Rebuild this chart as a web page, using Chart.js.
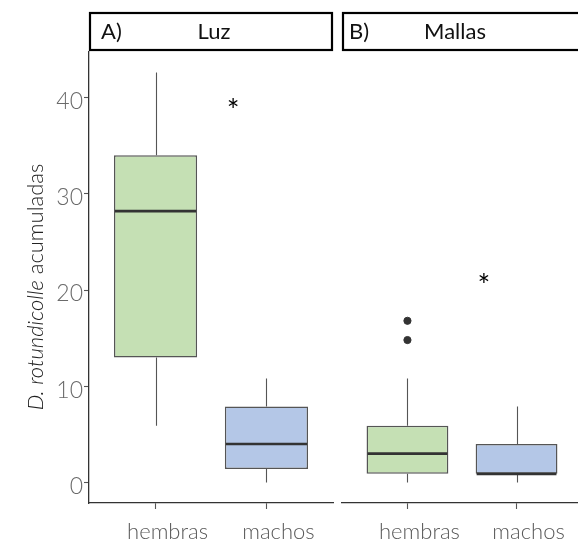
<!DOCTYPE html>
<html>
<head>
<meta charset="utf-8">
<script src="https://cdn.jsdelivr.net/npm/chart.js@4.4.1/dist/chart.umd.min.js"></script>
<style>
    html, body { margin: 0; padding: 0; background: #fff; overflow: hidden; }
    #wrap { position: relative; width: 578px; height: 543px; overflow: hidden; }
    canvas { position: absolute; top: 0; }
    #chartLuz { left: 0; }
    #chartMallas { left: 337px; }
</style>
</head>
<body>
<div id="wrap">
    <canvas id="chartLuz" width="340" height="543"></canvas>
    <canvas id="chartMallas" width="250" height="543"></canvas>
</div>
<script>
    // box stats: [min, q1, median, q3, max]
    const categories = ["hembras", "machos"];
    const yTicks = [0, 10, 20, 30, 40];
    const yRange = [-2.13, 44.73];

    const luzHembras = [5.9, 13.0, 28.2, 34.0, 42.6];
    const luzMachos = [0, 1.4, 4.0, 7.9, 10.8];
    const mallasHembras = [0, 0.9, 3.0, 5.9, 10.8];
    const mallasMachos = [0, 0.9, 0.9, 4.0, 7.9];
    const mallasHembrasOutliers = [16.8, 14.8];

    // significance marks: [x position, y value]
    const luzStar = [1.7, 39.2];
    const mallasStar = [1.7, 21.0];

    const boxColors = ["#c5e0b4", "#b4c7e7"];
    const fontFamily = "Lato, 'Open Sans', sans-serif";

    const boxPlugin = {
        id: "boxPlugin",
        beforeDatasetsDraw(chart) {
            const { ctx, scales } = chart;
            const stats = chart.options.plugins.boxPlugin.stats;
            ctx.save();
            ctx.strokeStyle = "#555";
            ctx.lineWidth = 1.1;
            stats.forEach((s, i) => {
                const x = Math.round(scales.x.getPixelForValue(i + 1)) + 0.5;
                ctx.beginPath();
                ctx.moveTo(x, scales.y.getPixelForValue(s[0]));
                ctx.lineTo(x, scales.y.getPixelForValue(s[1]));
                ctx.moveTo(x, scales.y.getPixelForValue(s[3]));
                ctx.lineTo(x, scales.y.getPixelForValue(s[4]));
                ctx.stroke();
            });
            ctx.restore();
        },
        afterDatasetsDraw(chart) {
            const { ctx, scales } = chart;
            const opts = chart.options.plugins.boxPlugin;
            const meta = chart.getDatasetMeta(0);
            ctx.save();
            ctx.strokeStyle = "#333";
            ctx.lineWidth = 2.6;
            opts.stats.forEach((s, i) => {
                const bar = meta.data[i];
                const y = scales.y.getPixelForValue(s[2]);
                ctx.beginPath();
                ctx.moveTo(bar.x - bar.width / 2 + 1, y);
                ctx.lineTo(bar.x + bar.width / 2 - 1, y);
                ctx.stroke();
            });
            ctx.fillStyle = "#000";
            ctx.font = "30px " + fontFamily;
            ctx.textAlign = "center";
            ctx.textBaseline = "middle";
            ctx.fillText("*", scales.x.getPixelForValue(opts.star[0]),
                scales.y.getPixelForValue(opts.star[1]) + 6);
            ctx.restore();
        },
        afterDraw(chart) {
            const { ctx, chartArea } = chart;
            const opts = chart.options.plugins.boxPlugin;
            ctx.save();
            ctx.fillStyle = "#fff";
            ctx.strokeStyle = "#000";
            ctx.lineWidth = 2.2;
            const right = opts.stripOpen ? chart.width + 10 : chartArea.right;
            ctx.fillRect(chartArea.left + 1, 13, right - chartArea.left - 2, 37);
            ctx.strokeRect(chartArea.left + 1, 13, right - chartArea.left - 2, 37);
            ctx.fillStyle = "#111";
            ctx.font = "22px " + fontFamily;
            ctx.textBaseline = "middle";
            ctx.textAlign = "left";
            ctx.fillText(opts.letter, chartArea.left + opts.letterOffset, 32);
            ctx.textAlign = "center";
            ctx.fillText(opts.title, chartArea.left + opts.titleOffset, 32);

            if (opts.yTitle) {
                ctx.translate(36, 287);
                ctx.rotate(-Math.PI / 2);
                ctx.fillStyle = "#222";
                ctx.textBaseline = "middle";
                ctx.textAlign = "left";
                const italic = "italic 300 22px " + fontFamily;
                const normal = "300 22px " + fontFamily;
                ctx.font = italic;
                const w1 = ctx.measureText("D. rotundicolle").width;
                ctx.font = normal;
                const w2 = ctx.measureText(" acumuladas").width;
                const start = -(w1 + w2) / 2;
                ctx.font = italic;
                ctx.fillText("D. rotundicolle", start, 0);
                ctx.font = normal;
                ctx.fillText(" acumuladas", start + w1, 0);
            }
            ctx.restore();
        },
    };

    function makeChart(canvasId, stats, outliers, star, cfg) {
        const datasets = [
            {
                type: "bar",
                data: stats.map((s, i) => ({ x: i + 1, y: [s[1], s[3]] })),
                backgroundColor: boxColors,
                borderColor: "#555",
                borderWidth: 1.5,
                borderSkipped: false,
                categoryPercentage: 1,
                barPercentage: 0.75,
                order: 2,
            },
        ];
        if (outliers.length) {
            datasets.push({
                type: "scatter",
                data: outliers.map((v) => ({ x: 1, y: v })),
                pointRadius: 3.6,
                pointBackgroundColor: "#333",
                pointBorderColor: "#333",
                order: 1,
            });
        }

        return new Chart(document.getElementById(canvasId), {
            type: "bar",
            data: { datasets },
            options: {
                responsive: false,
                animation: false,
                layout: { padding: cfg.padding },
                plugins: {
                    legend: { display: false },
                    tooltip: { enabled: false },
                    boxPlugin: {
                        stats,
                        star,
                        letter: cfg.letter,
                        title: cfg.title,
                        letterOffset: cfg.letterOffset,
                        titleOffset: cfg.titleOffset,
                        stripOpen: cfg.stripOpen,
                        yTitle: cfg.showY,
                    },
                },
                scales: {
                    x: {
                        type: "linear",
                        min: 0.4,
                        max: 2.6,
                        offset: false,
                        afterBuildTicks(scale) {
                            scale.ticks = categories.map((_, i) => ({ value: i + 1 }));
                        },
                        afterFit(scale) {
                            scale.height = 40;
                        },
                        border: { display: true, color: "#333", width: 1.3 },
                        grid: {
                            display: true,
                            offset: false,
                            drawOnChartArea: false,
                            tickLength: 6,
                            tickColor: "#555",
                            tickWidth: 1.1,
                        },
                        ticks: {
                            autoSkip: false,
                            maxRotation: 0,
                            padding: 10,
                            labelOffset: 12,
                            color: "#5a5a5a",
                            font: { family: fontFamily, size: 22, weight: 300 },
                            callback: (value) => categories[value - 1],
                        },
                    },
                    y: {
                        type: "linear",
                        display: cfg.showY,
                        min: yRange[0],
                        max: yRange[1],
                        afterBuildTicks(scale) {
                            scale.ticks = yTicks.map((v) => ({ value: v }));
                        },
                        afterFit(scale) {
                            scale.width = cfg.showY ? 89 : 0;
                        },
                        border: { display: true, color: "#333", width: 1.3 },
                        grid: {
                            display: true,
                            drawOnChartArea: false,
                            tickLength: 5,
                            tickColor: "#555",
                            tickWidth: 1.1,
                        },
                        ticks: {
                            padding: 1,
                            labelOffset: 4,
                            color: "#6a6a6a",
                            font: { family: fontFamily, size: 23, weight: 300 },
                        },
                    },
                },
            },
            plugins: [boxPlugin],
        });
    }

    makeChart("chartLuz", [luzHembras, luzMachos], [], luzStar, {
        padding: { top: 52, right: 7, left: 0, bottom: 0 },
        letter: "A)",
        title: "Luz",
        letterOffset: 12,
        titleOffset: 125,
        stripOpen: false,
        showY: true,
    });

    makeChart("chartMallas", [mallasHembras, mallasMachos], mallasHembrasOutliers, mallasStar, {
        padding: { top: 52, right: 4, left: 4, bottom: 0 },
        letter: "B)",
        title: "Mallas",
        letterOffset: 7,
        titleOffset: 113,
        stripOpen: true,
        showY: false,
    });
</script>
</body>
</html>
